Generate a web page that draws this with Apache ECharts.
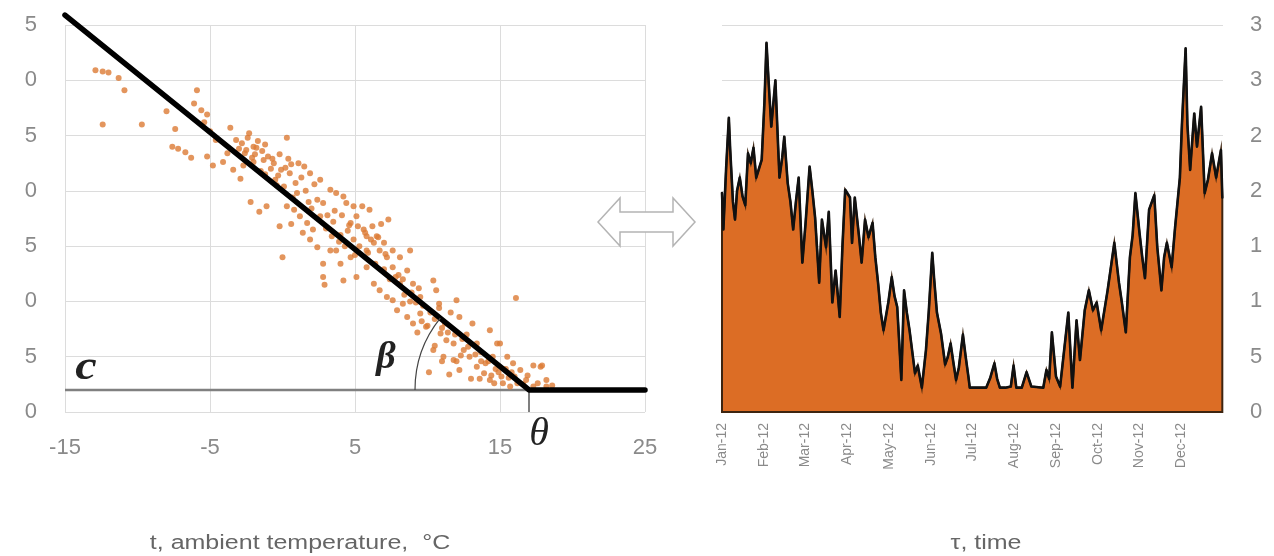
<!DOCTYPE html>
<html><head><meta charset="utf-8">
<script src="https://cdn.jsdelivr.net/npm/echarts@6/dist/echarts.min.js"></script>
<style>html,body{margin:0;padding:0;background:#fff}#c{width:1274px;height:556px}</style>
</head><body><div id="c"></div>
<script>
// ---- left panel: daily heat load vs ambient temperature ----
const tempX = [-12.9,-12.4,-12.0,-11.3,-10.9,-12.4,-9.7,
 -8.0,-7.4,-5.9,-6.1,-5.6,-5.2,-7.6,-7.2,-6.7,-6.3,-5.2,-4.8,-5.4,-5.0,-4.6,
 -4.1,-3.6,-3.4,-2.9,-3.2,-2.8,-2.4,-2.0,-1.7,-1.4,-1.2,-2.6,-2.1,-1.0,-0.6,-0.2,0.3,0.2,0.6,1.1,1.5,1.9,2.2,-0.5,0.1,0.9,1.3,-1.5,-2.2,-1.6,-1.1,-0.2,0.0,-3.0,-2.3,-1.8,-0.8,-0.3,0.5,1.0,1.6,2.6,-2.7,-3.8,
 0.3,0.8,1.2,1.7,2.1,2.6,2.8,3.3,3.7,4.2,4.4,4.9,4.7,5.1,5.6,6.0,6.5,7.0,7.3,7.6,8.1,8.8,1.9,2.4,2.8,2.8,2.9,3.3,3.7,4.0,4.2,4.7,5.1,5.8,6.3,6.7,7.2,7.6,3.0,3.5,4.0,4.5,5.3,5.9,6.2,6.8,2.0,1.4,0.6,3.9,4.9,5.5,
 7.9,8.3,8.6,9.0,9.5,9.9,10.4,10.6,10.9,11.3,11.8,12.0,12.2,8.1,8.6,9.0,9.5,7.6,7.2,6.7,6.3,5.8,10.1,8.0,8.9,9.7,10.2,10.8,11.2,11.6,7.4,8.4,9.3,10.5,11.0,
 12.5,12.9,13.4,13.9,14.3,14.5,14.8,15.2,15.7,16.2,16.4,16.8,17.3,17.8,18.2,16.1,14.3,15.0,15.5,10.4,11.1,11.8,12.2,13.4,12.7,13.1,13.7,14.0,14.9,15.4,15.9,16.6,17.3,17.9,18.2,17.6,18.6,16.9,14.6,13.0,12.0,11.5,
 -2.5,-1.9,-1.3,-0.7,-0.1,0.4,-2.0,-1.2,-0.4,0.7,1.8,2.4,3.1,3.6,4.1,4.6,5.2,5.7,6.1,6.6,7.1,3.4,4.3,5.0,5.8,6.4,7.0,7.8,8.3,8.8,9.2,9.6,10.0,10.5,11.0,11.4,11.9,12.4,12.8,13.3,13.7,14.2,14.7,15.1,15.6,16.0,9.4,10.8,12.3,13.6,14.4,15.8];
const loadY = [30.9,30.8,30.7,30.2,29.1,26.0,26.0,
 27.2,25.6,29.1,27.9,27.3,26.9,24.0,23.8,23.5,23.0,23.1,22.3,26.2,25.4,24.6,
 22.6,25.7,21.9,21.1,24.6,24.3,24.8,24.0,24.5,23.6,24.2,23.4,23.0,23.1,22.5,23.3,24.8,22.1,22.4,22.5,22.2,21.6,20.6,21.0,20.4,20.7,21.2,21.8,19.0,18.1,18.6,16.8,14.0,23.8,25.2,23.9,22.0,21.4,21.6,19.8,20.0,21.0,22.3,23.4,
 18.6,18.3,17.7,17.1,16.5,17.7,18.9,20.1,19.8,19.5,18.9,18.6,17.1,17.7,16.5,18.3,15.9,15.3,17.4,14.6,14.0,14.6,15.6,14.9,13.4,12.2,11.5,14.6,14.6,13.4,11.9,14.0,12.2,13.1,11.6,11.0,10.4,10.1,16.6,17.2,16.0,16.4,15.0,14.4,16.8,17.0,18.4,16.2,17.0,15.4,15.6,18.6,
 9.2,9.8,8.6,8.0,8.9,7.7,11.9,11.0,7.1,6.5,6.2,10.1,8.6,11.6,12.8,11.6,10.4,13.1,14.0,14.6,15.3,15.9,3.6,12.4,10.8,9.6,9.0,9.4,8.0,9.0,12.0,10.6,7.2,6.0,4.6,
 5.6,5.0,4.1,3.5,2.9,5.0,6.2,2.6,2.3,2.6,3.8,2.9,2.3,4.1,2.3,10.3,7.4,6.2,5.0,5.6,5.0,4.7,3.8,6.2,7.0,8.0,5.4,4.4,3.6,3.9,4.4,2.5,4.2,4.2,2.9,2.6,2.4,3.3,2.6,3.0,4.6,3.4,
 23.7,23.3,22.8,22.9,21.9,22.9,22.6,21.5,20.5,19.4,19.0,19.2,17.8,18.2,17.8,16.9,16.8,16.2,15.6,15.8,14.3,15.9,15.0,14.2,14.6,13.4,12.9,12.2,12.0,10.0,9.9,8.2,7.8,8.4,7.6,7.2,7.0,6.6,5.9,5.2,4.6,4.6,3.9,3.2,3.1,3.2,11.2,9.8,5.1,3.0,3.3,3.6];
// fitted piecewise-linear model: base load c below heating limit theta
const modelT = [-15, 17, 25];
const modelQ = [35.9, 2, 2];
const thetaT = 17, baseC = 2;
const leftYLabels = ['0','5','0','5','0','5','0','5'];

// ---- right panel: load over the year (day of year, value) ----
const dayIdx = [0,1,3,5,6,8,9.5,11,13,15,17,19,21,23,25,27,29,31,32.5,34,36,39,41,42,44,45.5,48,50,52,54,56,58.7,61,64,66,68,71,73,76,78,80.6,83,86,88,90,93.5,95,97,100,102,104.5,107,110,112,114,116,118,121.5,124,126,128,131,133,135,137,141,143,146,149,151,153.6,155,157,160,163,165,167,169,171,173,176,178,180,181,193,196,199,201,203,207,211,213,215,219,222.5,226,234.7,237,239,241,244,247,250.5,253,256,259,261.5,265,268,271,273.7,277,281.7,284,286.6,290,292,295,298,300,302,305,307,309,312,315.8,318,321,323,325,328.5,331,334.5,336,338.7,340,342,345,347,350,352.6,355,358,361,364.5,365.5];
const demand = [19.8,16.5,22,26.6,23.7,19,17.4,20,21.2,19.5,18.7,23.4,22.5,23.9,21.2,22,22.8,28,33.4,30,25.8,30.0,24,21.2,23,24.9,20.7,19,16.5,19,21.2,13.5,17,22.2,20,17.6,11.7,17.4,14.9,18.1,9.9,12.8,8.6,15,20.1,19.4,15.3,19.4,16,13.5,17.4,15.8,17.1,14,11.7,9,7.4,9.9,12.2,10.5,9.5,2.9,11.0,9,7.4,3.5,4.2,2.2,5.6,9,14.4,12,9.0,7.1,4.3,5,6.2,4.5,2.9,4,7.0,5,3.2,2.2,2.2,3.1,4.4,3,2.2,2.2,2.3,4.2,2.2,2.2,3.6,2.3,2.2,3.8,3,7.2,3.2,2.3,6.2,9.0,2.2,8.3,4.7,9.2,11.0,9.2,9.9,7.4,11.0,13,15.3,11.7,10,7.2,14.0,16,19.8,16.2,14,12.1,18.3,19.6,14.9,11.0,14,15.3,13.1,16.7,21.2,26,32.9,26,21.9,27.0,24.0,27.6,19.8,21,23.4,21.2,23.7,19.4];
const monthLabels = ['Jan-12','Feb-12','Mar-12','Apr-12','May-12','Jun-12','Jul-12','Aug-12','Sep-12','Oct-12','Nov-12','Dec-12'];
const rightYLabels = ['0','5','1','1','2','2','3','3'];

const chart = echarts.init(document.getElementById('c'), null, {renderer:'canvas'});
const labelGray = '#8a8a8a';
const splitGray = '#dcdcdc';
const option = {
  animation: false,
  backgroundColor: '#fff',
  grid: [
    {left: 65, right: 629, top: 25, bottom: 144},
    {left: 722, right: 51, top: 25, bottom: 144}
  ],
  xAxis: [
    {gridIndex: 0, type: 'value', min: -15, max: 25, interval: 10,
     axisLine: {show: false}, axisTick: {show: false},
     splitLine: {show: true, lineStyle: {color: splitGray, width: 1}},
     axisLabel: {color: labelGray, fontSize: 22, margin: 25, fontFamily: 'Liberation Sans'}},
    {gridIndex: 1, type: 'value', min: 0, max: 366, interval: 30.5,
     axisLine: {show: false}, axisTick: {show: false}, splitLine: {show: false},
     axisLabel: {rotate: 90, color: labelGray, fontSize: 14, margin: 11, fontFamily: 'Liberation Sans',
       formatter: v => monthLabels[Math.round(v / 30.5)] || ''}}
  ],
  yAxis: [
    {gridIndex: 0, type: 'value', min: 0, max: 35, interval: 5,
     axisLine: {show: false}, axisTick: {show: false},
     splitLine: {show: true, lineStyle: {color: splitGray, width: 1}},
     axisLabel: {color: labelGray, fontSize: 22, margin: 28, fontFamily: 'Liberation Sans',
       formatter: v => leftYLabels[Math.round(v / 5)]}},
    {gridIndex: 1, type: 'value', position: 'right', min: 0, max: 35, interval: 5,
     axisLine: {show: false}, axisTick: {show: false},
     splitLine: {show: true, lineStyle: {color: splitGray, width: 1}},
     axisLabel: {color: labelGray, fontSize: 22, margin: 27, align: 'left', fontFamily: 'Liberation Sans',
       formatter: v => rightYLabels[Math.round(v / 5)]}}
  ],
  series: [
    {type: 'line', xAxisIndex: 0, yAxisIndex: 0, showSymbol: false, z: 3,
     data: [[modelT[0], baseC], [thetaT, baseC]],
     lineStyle: {color: '#808080', width: 2.5}},
    {type: 'line', xAxisIndex: 0, yAxisIndex: 0, showSymbol: false, z: 3,
     data: [[thetaT, 0], [thetaT, baseC]],
     lineStyle: {color: '#555', width: 1.5}},
    {type: 'scatter', xAxisIndex: 0, yAxisIndex: 0, symbolSize: 6, z: 4,
     itemStyle: {color: '#dc7a34'},
     data: tempX.map((t, i) => [t, loadY[i]])},
    {type: 'line', xAxisIndex: 0, yAxisIndex: 0, showSymbol: false, clip: false, z: 5,
     data: modelT.map((t, i) => [t, modelQ[i]]),
     lineStyle: {color: '#000', width: 5.5, cap: 'round', join: 'round'}},
    {type: 'custom', xAxisIndex: 1, yAxisIndex: 1, data: [[0, 0]], z: 3,
     renderItem: (params, api) => {
       const pts = [api.coord([dayIdx[0], 0])];
       dayIdx.forEach((d, i) => pts.push(api.coord([d, demand[i]])));
       pts.push(api.coord([dayIdx[dayIdx.length - 1], 0]));
       return {type: 'polygon', shape: {points: pts},
               style: {fill: '#dc6d25', stroke: '#3d2410', lineWidth: 2}};
     }},
    {type: 'line', xAxisIndex: 1, yAxisIndex: 1, showSymbol: false, z: 4,
     data: dayIdx.map((d, i) => [d, demand[i]]),
     lineStyle: {color: '#111', width: 2.6, join: 'round', cap: 'round'}}
  ]
};
chart.setOption(option);

// annotations anchored to data positions
const pTheta = chart.convertToPixel({gridIndex: 0}, [thetaT, baseC]);
const pStart = chart.convertToPixel({gridIndex: 0}, [modelT[0], modelQ[0]]);
const pLeft = chart.convertToPixel({gridIndex: 0}, [modelT[0], baseC]);
const ang = Math.atan2(pTheta[1] - pStart[1], pTheta[0] - pStart[0]);
const mkText = (txt, x, y, font, fill, sx) => ({type: 'text', z: 10, x: x, y: y, scaleX: sx || 1,
  style: {text: txt, x: 0, y: 0, font: font, fill: fill,
          align: 'center', verticalAlign: 'middle', textAlign: 'center', textVerticalAlign: 'middle'}});
chart.setOption({graphic: {elements: [
  {type: 'arc', z: 6, shape: {cx: pTheta[0], cy: pTheta[1], r: 114, startAngle: Math.PI, endAngle: Math.PI + ang, clockwise: true},
   style: {stroke: '#444', lineWidth: 1.2, fill: null}},
  mkText('θ', pTheta[0] + 10, pTheta[1] + 45, 'italic 40px "Liberation Serif"', '#222'),
  mkText('β', pTheta[0] - 143, pTheta[1] - 32, 'italic bold 38px "Liberation Serif"', '#222'),
  mkText('c', pLeft[0] + 21, pLeft[1] - 22, 'italic bold 42px "Liberation Serif"', '#222', 1.15),
  {type: 'polygon', z: 6, shape: {points: [[598,222],[620,198],[620,212],[673,212],[673,198],[695,222],[673,246],[673,232],[620,232],[620,246]]},
   style: {fill: '#fff', stroke: '#b4b4b4', lineWidth: 1.5}},
  mkText('t, ambient temperature,  °C', 300, 543, '20px "Liberation Sans"', '#666', 1.25),
  mkText('τ, time', 986, 543, '20px "Liberation Sans"', '#666', 1.25)
]}});
</script></body></html>
